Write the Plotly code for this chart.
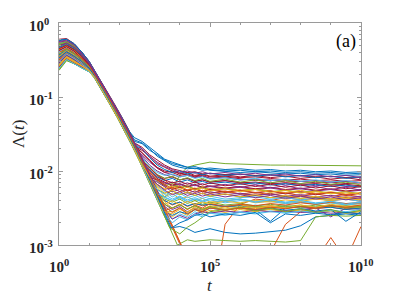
import plotly.graph_objects as go

# ---- data (log10 values) ----
EARLY_LOGT = [0.0, 0.25, 0.5, 0.75, 1.0]
FULL_LOGT = [1.25, 1.5, 1.75, 2.0, 2.25, 2.5, 2.75, 3.0, 3.25, 3.5, 3.75, 4.0,
             4.25, 4.5, 4.75, 5.0, 5.5, 6.0, 6.5, 7.0, 7.5, 8.0, 8.5, 9.0, 9.5, 10.0]
# common decay followed by all runs before they level off (log10 Lambda)
DECAY = [-0.74, -0.91, -1.09, -1.27, -1.46, -1.66, -1.87, -2.09, -2.31, -2.54,
         -2.77, -3.00, -3.22, -3.44, -3.66, -3.88]

START = [-0.30, -0.45, -0.52, -0.38, -0.61, -0.27, -0.48, -0.56, -0.35, -0.42,
         -0.58, -0.64, -0.33, -0.50, -0.24, -0.46, -0.40, -0.54, -0.29, -0.62,
         -0.37, -0.44, -0.51, -0.26, -0.59, -0.32, -0.47, -0.22, -0.55, -0.41,
         -0.36, -0.53, -0.28, -0.49, -0.60, -0.43, -0.34, -0.57, -0.25, -0.63,
         -0.39, -0.31, -0.23, -0.50, -0.45, -0.54, -0.29, -0.61, -0.37, -0.33,
         -0.48, -0.58, -0.26, -0.42, -0.52, -0.35, -0.47, -0.40, -0.56, -0.31]
E25 = [-0.27, -0.37, -0.42, -0.32, -0.49, -0.25, -0.39, -0.45, -0.30, -0.35,
       -0.47, -0.51, -0.29, -0.41, -0.22, -0.38, -0.34, -0.44, -0.26, -0.49,
       -0.32, -0.37, -0.42, -0.24, -0.47, -0.28, -0.39, -0.21, -0.44, -0.35,
       -0.31, -0.43, -0.25, -0.40, -0.48, -0.36, -0.30, -0.46, -0.23, -0.50,
       -0.33, -0.27, -0.22, -0.41, -0.37, -0.44, -0.26, -0.49, -0.32, -0.29,
       -0.39, -0.47, -0.24, -0.35, -0.42, -0.30, -0.39, -0.34, -0.45, -0.27]
E50 = [-0.33, -0.43, -0.48, -0.38, -0.55, -0.31, -0.45, -0.51, -0.36, -0.41,
       -0.53, -0.55, -0.35, -0.47, -0.28, -0.44, -0.40, -0.50, -0.32, -0.55,
       -0.38, -0.43, -0.48, -0.30, -0.53, -0.34, -0.45, -0.28, -0.50, -0.41,
       -0.37, -0.49, -0.31, -0.46, -0.54, -0.42, -0.36, -0.52, -0.29, -0.55,
       -0.39, -0.33, -0.28, -0.47, -0.43, -0.50, -0.32, -0.55, -0.38, -0.35,
       -0.45, -0.53, -0.30, -0.41, -0.48, -0.36, -0.45, -0.40, -0.51, -0.33]
E75 = [-0.43, -0.51, -0.55, -0.47, -0.60, -0.41, -0.52, -0.57, -0.45, -0.49,
       -0.58, -0.60, -0.44, -0.54, -0.39, -0.51, -0.48, -0.56, -0.42, -0.60,
       -0.47, -0.51, -0.55, -0.41, -0.58, -0.44, -0.52, -0.39, -0.56, -0.49,
       -0.46, -0.55, -0.41, -0.53, -0.59, -0.50, -0.45, -0.57, -0.40, -0.60,
       -0.48, -0.43, -0.39, -0.54, -0.51, -0.56, -0.42, -0.60, -0.47, -0.44,
       -0.52, -0.58, -0.41, -0.49, -0.55, -0.45, -0.52, -0.48, -0.57, -0.43]
E100 = [-0.55, -0.60, -0.63, -0.57, -0.66, -0.53, -0.61, -0.64, -0.56, -0.59,
        -0.65, -0.66, -0.55, -0.62, -0.52, -0.60, -0.58, -0.63, -0.54, -0.66,
        -0.57, -0.60, -0.63, -0.53, -0.65, -0.55, -0.61, -0.52, -0.63, -0.59,
        -0.57, -0.63, -0.53, -0.61, -0.65, -0.59, -0.56, -0.64, -0.53, -0.66,
        -0.58, -0.55, -0.52, -0.62, -0.60, -0.63, -0.54, -0.66, -0.57, -0.55,
        -0.61, -0.65, -0.53, -0.59, -0.63, -0.56, -0.61, -0.58, -0.64, -0.55]
# small offset (in decades of t) of each run along the common decay
DECAY_SHIFT = [0.04, -0.02, -0.05, 0.02, -0.07, 0.05, -0.03, -0.06, 0.03, 0.00,
               -0.06, -0.08, 0.03, -0.04, 0.07, -0.02, 0.01, -0.05, 0.05, -0.07,
               0.02, -0.01, -0.04, 0.06, -0.06, 0.04, -0.03, 0.08, -0.05, 0.00,
               0.02, -0.04, 0.05, -0.03, -0.07, -0.01, 0.03, -0.06, 0.06, -0.08,
               0.01, 0.04, 0.07, -0.04, -0.02, -0.05, 0.05, -0.07, 0.02, 0.03,
               -0.03, -0.06, 0.06, 0.00, -0.04, 0.03, -0.03, 0.01, -0.06, 0.04]

# late-time values of each run (aligned to the end of FULL_LOGT)
TAILS = [
    [-1.60, -1.63, -1.72, -1.78, -1.85, -1.90, -1.93, -1.95, -1.97, -1.96, -1.99, -2.00, -2.02, -2.01, -2.03, -2.04, -2.03, -2.05, -2.04, -2.06, -2.05],
    [-1.98, -2.08, -2.12, -2.22, -2.20, -2.26, -2.24, -2.28, -2.30, -2.27, -2.31, -2.33, -2.30, -2.35, -2.34, -2.36, -2.38, -2.35, -2.37],
    [-2.22, -2.35, -2.30, -2.38, -2.35, -2.40, -2.37, -2.42, -2.40, -2.38, -2.43, -2.41, -2.44, -2.42, -2.45, -2.43, -2.46, -2.44],
    [-1.80, -1.92, -2.00, -2.05, -2.08, -2.12, -2.10, -2.14, -2.12, -2.15, -2.13, -2.16, -2.18, -2.15, -2.19, -2.17, -2.20, -2.18, -2.21, -2.20],
    [-2.35, -2.25, -2.05, -1.95, -1.92, -1.90, -1.88, -1.90, -1.91, -1.91, -1.92, -1.92, -1.92, -1.93, -1.92, -1.93, -1.93],
    [-2.48, -2.55, -2.50, -2.58, -2.52, -2.55, -2.50, -2.47, -2.50, -2.46, -2.49, -2.47, -2.50, -2.48, -2.46, -2.49, -2.47],
    [-1.72, -1.80, -1.90, -1.95, -2.00, -2.03, -2.05, -2.08, -2.06, -2.10, -2.08, -2.11, -2.13, -2.12, -2.15, -2.14, -2.16, -2.15, -2.17, -2.16],
    [-2.75, -2.78, -2.83, -2.80, -2.78, -2.83, -2.85, -2.84, -2.82, -2.80, -2.74, -2.62, -2.60, -2.58, -2.60],
    [-2.72, -2.45, -2.38, -2.40, -2.36, -2.39, -2.37, -2.40, -2.38, -2.41],
    [-2.00, -2.10, -2.18, -2.15, -2.22, -2.20, -2.24, -2.21, -2.25, -2.23, -2.26, -2.24, -2.27, -2.29, -2.26, -2.30, -2.28, -2.31, -2.29],
    [-2.45, -2.52, -2.48, -2.55, -2.50, -2.53, -2.49, -2.52, -2.50, -2.53, -2.51, -2.55, -2.52, -2.50, -2.62, -2.50, -2.52],
    [-2.93, -2.95, -2.94, -2.93, -2.94, -2.95, -2.94, -2.95, -2.96, -2.94, -2.62, -2.60, -2.61, -2.60],
    [-2.20, -2.28, -2.35, -2.30, -2.36, -2.33, -2.37, -2.34, -2.38, -2.36, -2.35, -2.38, -2.36, -2.39, -2.37, -2.40, -2.38, -2.41],
    [-1.75, -1.85, -1.95, -2.00, -2.02, -2.06, -2.04, -2.07, -2.05, -2.08, -2.07, -2.09, -2.08, -2.10, -2.12, -2.11, -2.13, -2.12, -2.14, -2.13],
    [-1.58, -1.62, -1.70, -1.80, -1.86, -1.92, -1.95, -1.97, -1.96, -1.99, -1.98, -2.00, -1.99, -2.01, -2.00, -2.02, -2.01, -2.03, -2.02, -2.04, -2.03],
    [-2.40, -2.46, -2.42, -2.48, -2.44, -2.47, -2.45, -2.48, -2.46, -2.49, -2.47, -2.50, -2.48, -2.51, -2.49, -2.52, -2.50],
    [-2.55, -2.50, -2.56, -2.48, -2.52, -2.47, -2.50, -2.46, -2.49, -2.47, -2.51, -2.48, -2.50, -2.47, -2.49, -2.48],
    [-2.02, -2.12, -2.16, -2.20, -2.18, -2.22, -2.19, -2.23, -2.21, -2.24, -2.22, -2.25, -2.23, -2.26, -2.24, -2.27, -2.25, -2.28, -2.26],
    [-2.25, -2.30, -2.27, -2.32, -2.29, -2.33, -2.30, -2.34, -2.31, -2.35, -2.33, -2.36, -2.34, -2.37, -2.35, -2.38, -2.36, -2.39],
    [-2.65, -2.58, -2.62, -2.55, -2.60, -2.56, -2.58, -2.55, -2.57, -2.54, -2.56, -2.55, -2.57, -2.54, -2.56, -2.55],
    [-1.95, -2.05, -2.10, -2.08, -2.12, -2.10, -2.14, -2.12, -2.15, -2.13, -2.16, -2.15, -2.17, -2.16, -2.18, -2.17, -2.19, -2.18, -2.20],
    [-2.40, -2.45, -2.42, -2.47, -2.44, -2.46, -2.45, -2.48, -2.47, -2.52, -2.68, -2.50, -2.48, -2.50, -2.49, -2.52, -2.50],
    [-2.18, -2.25, -2.22, -2.28, -2.25, -2.29, -2.26, -2.30, -2.28, -2.31, -2.29, -2.32, -2.30, -2.33, -2.31, -2.34, -2.32, -2.35],
    [-2.42, -2.50, -2.45, -2.52, -2.47, -2.51, -2.48, -2.53, -2.50, -2.54, -2.52, -2.55, -2.53, -2.56, -2.54, -2.57, -2.55],
    [-1.78, -1.88, -1.96, -2.02, -2.05, -2.08, -2.06, -2.09, -2.07, -2.10, -2.09, -2.12, -2.11, -2.13, -2.12, -2.14, -2.13, -2.15, -2.14, -2.16],
    [-2.05, -2.14, -2.20, -2.17, -2.23, -2.20, -2.25, -2.22, -2.26, -2.24, -2.27, -2.25, -2.28, -2.26, -2.29, -2.27, -2.30, -2.28, -2.31],
    [-2.28, -2.36, -2.40, -2.35, -2.41, -2.38, -2.42, -2.39, -2.43, -2.40, -2.42, -2.41, -2.44, -2.42, -2.45, -2.43, -2.46, -2.44],
    [-1.62, -1.68, -1.78, -1.85, -1.92, -1.97, -2.00, -2.02, -2.01, -2.04, -2.03, -2.05, -2.04, -2.06, -2.05, -2.07, -2.06, -2.08, -2.07, -2.09, -2.08],
    [-1.98, -2.08, -2.13, -2.10, -2.15, -2.12, -2.16, -2.14, -2.17, -2.15, -2.18, -2.16, -2.19, -2.17, -2.20, -2.18, -2.21, -2.19, -2.22],
    [-3.50, -3.30, -3.20, -3.10, -2.72, -2.55, -2.50, -2.47, -2.50, -2.48],
    [-2.62, -2.55, -2.60, -2.52, -2.57, -2.53, -2.56, -2.52, -2.55, -2.51, -2.54, -2.52, -2.55, -2.53, -2.56, -2.54],
    [-2.15, -2.22, -2.28, -2.25, -2.30, -2.27, -2.31, -2.28, -2.32, -2.30, -2.33, -2.31, -2.34, -2.32, -2.35, -2.33, -2.36, -2.34],
    [-2.38, -2.42, -2.38, -2.44, -2.40, -2.45, -2.42, -2.46, -2.44, -2.47, -2.45, -2.48, -2.46, -2.49, -2.47, -2.50, -2.48],
    [-1.82, -1.94, -2.02, -2.06, -2.04, -2.08, -2.06, -2.10, -2.08, -2.11, -2.09, -2.12, -2.10, -2.13, -2.11, -2.14, -2.12, -2.15, -2.13, -2.16],
    [-2.00, -2.10, -2.15, -2.19, -2.17, -2.21, -2.18, -2.22, -2.20, -2.23, -2.21, -2.24, -2.22, -2.25, -2.23, -2.26, -2.24, -2.27, -2.25],
    [-2.60, -2.55, -2.58, -2.52, -2.55, -2.50, -2.53, -2.49, -2.52, -2.50, -2.53, -2.51, -2.54, -2.52, -2.68, -2.55],
    [-3.60, -3.50, -3.40, -3.30, -3.20, -3.10, -3.20, -2.90, -3.20, -2.75],
    [-2.20, -2.30, -2.26, -2.32, -2.28, -2.33, -2.30, -2.34, -2.31, -2.35, -2.32, -2.36, -2.33, -2.37, -2.34, -2.38, -2.35, -2.39],
    [-2.65, -2.60, -2.64, -2.58, -2.55, -2.57, -2.54, -2.56, -2.53, -2.55, -2.54, -2.56, -2.55, -2.57, -2.56, -2.58],
    [-2.85, -2.76, -2.70, -2.62, -2.55, -2.52, -2.50, -2.48, -2.50, -2.47, -2.49, -2.46, -2.48, -2.47, -2.49],
    [-2.35, -2.40, -2.36, -2.42, -2.38, -2.41, -2.37, -2.40, -2.38, -2.41, -2.39, -2.42, -2.40, -2.43, -2.41, -2.44, -2.42],
    [-1.76, -1.86, -1.96, -2.02, -2.00, -2.04, -2.02, -2.06, -2.04, -2.07, -2.05, -2.08, -2.06, -2.09, -2.07, -2.10, -2.08, -2.11, -2.09, -2.12],
    [-1.55, -1.60, -1.68, -1.76, -1.84, -1.88, -1.92, -1.95, -1.94, -1.97, -1.96, -1.98, -1.97, -1.99, -1.98, -2.00, -1.99, -2.01, -2.00, -2.02, -2.01],
    [-2.50, -2.45, -2.52, -2.46, -2.50, -2.44, -2.48, -2.45, -2.47, -2.44, -2.46, -2.43, -2.45, -2.42, -2.44, -2.43],
    [-2.45, -2.40, -2.46, -2.41, -2.45, -2.42, -2.44, -2.41, -2.43, -2.40, -2.42, -2.39, -2.41, -2.38, -2.40, -2.37, -2.39],
    [-2.05, -2.12, -2.18, -2.15, -2.19, -2.16, -2.20, -2.17, -2.21, -2.18, -2.22, -2.19, -2.23, -2.20, -2.24, -2.21, -2.25, -2.22, -2.26],
    [-1.85, -1.95, -2.05, -2.10, -2.07, -2.12, -2.09, -2.13, -2.10, -2.14, -2.11, -2.15, -2.12, -2.16, -2.13, -2.17, -2.14, -2.18, -2.15, -2.19],
    [-2.70, -2.62, -2.66, -2.58, -2.62, -2.57, -2.60, -2.56, -2.58, -2.55, -2.57, -2.54, -2.56, -2.53, -2.55, -2.52],
    [-2.12, -2.20, -2.25, -2.22, -2.27, -2.24, -2.28, -2.25, -2.29, -2.26, -2.30, -2.27, -2.31, -2.28, -2.32, -2.29, -2.33, -2.30],
    [-1.70, -1.82, -1.92, -1.98, -2.02, -2.00, -2.04, -2.02, -2.05, -2.03, -2.06, -2.04, -2.07, -2.05, -2.08, -2.06, -2.09, -2.07, -2.10, -2.08],
    [-2.02, -2.12, -2.18, -2.24, -2.21, -2.26, -2.23, -2.27, -2.24, -2.28, -2.26, -2.29, -2.27, -2.30, -2.28, -2.31, -2.29, -2.32, -2.30],
    [-2.58, -2.52, -2.56, -2.50, -2.54, -2.49, -2.52, -2.48, -2.51, -2.47, -2.50, -2.46, -2.49, -2.45, -2.48, -2.46],
    [-1.62, -1.70, -1.80, -1.88, -1.94, -1.98, -2.02, -2.00, -2.03, -2.01, -2.04, -2.02, -2.05, -2.03, -2.06, -2.04, -2.07, -2.05, -2.08, -2.06, -2.09],
    [-2.45, -2.50, -2.46, -2.51, -2.47, -2.52, -2.48, -2.53, -2.49, -2.54, -2.50, -2.55, -2.51, -2.56, -2.52, -2.57, -2.53],
    [-2.25, -2.32, -2.38, -2.34, -2.39, -2.36, -2.40, -2.37, -2.41, -2.38, -2.42, -2.39, -2.43, -2.40, -2.44, -2.41, -2.45, -2.42],
    [-1.96, -2.06, -2.12, -2.16, -2.14, -2.18, -2.15, -2.19, -2.16, -2.20, -2.17, -2.21, -2.18, -2.22, -2.19, -2.23, -2.20, -2.24, -2.21],
    [-2.70, -2.66, -2.60, -2.58, -2.62, -2.58, -2.60, -2.56, -2.70, -2.58, -2.60, -2.57, -2.59, -2.56, -2.58],
    [-2.48, -2.56, -2.50, -2.58, -2.52, -2.55, -2.50, -2.53, -2.50, -2.52, -2.49, -2.51, -2.48, -2.50, -2.47, -2.49, -2.46],
    [-2.08, -2.18, -2.24, -2.20, -2.25, -2.22, -2.26, -2.23, -2.27, -2.24, -2.28, -2.25, -2.29, -2.26, -2.30, -2.27, -2.31, -2.28, -2.32],
    [-2.18, -2.26, -2.32, -2.28, -2.33, -2.30, -2.34, -2.31, -2.35, -2.32, -2.36, -2.33, -2.37, -2.34, -2.38, -2.35, -2.39, -2.36],
]

COLORS = ["#0072BD", "#D95319", "#EDB120", "#7E2F8E", "#77AC30", "#4DBEEE", "#A2142F"]

X_TICK_EXP = [0, 5, 10]          # major ticks at 10^0, 10^5, 10^10
Y_TICK_EXP = [-3, -2, -1, 0]     # major ticks at 10^-3 ... 10^0

SERIF = "Liberation Serif, Times New Roman, serif"
AXIS_GREY = "#9a9a9a"
LABEL_COLOR = "#262626"

# ---- figure ----
fig = go.Figure()
n_full = len(FULL_LOGT)
for i, tail in enumerate(TAILS):
    n_dec = n_full - len(tail)
    logx = EARLY_LOGT + [t + DECAY_SHIFT[i] for t in FULL_LOGT[:n_dec]] + FULL_LOGT[n_dec:]
    logy = [START[i], E25[i], E50[i], E75[i], E100[i]] + DECAY[:n_dec] + tail
    fig.add_trace(go.Scatter(
        x=[10 ** v for v in logx], y=[10 ** v for v in logy], mode="lines",
        line=dict(color=COLORS[i % len(COLORS)], width=1),
        showlegend=False, hoverinfo="skip"))

minor_x = [10 ** k for k in range(1, 10) if k not in X_TICK_EXP]
minor_y = [m * 10 ** e for e in Y_TICK_EXP[:-1] for m in range(2, 10)]

axis_common = dict(
    type="log", showgrid=False, zeroline=False, automargin=False,
    showline=True, linecolor=AXIS_GREY, linewidth=1, mirror="allticks",
    ticks="inside", ticklen=4, tickcolor=AXIS_GREY, tickwidth=1,
    showticklabels=False,
)
fig.update_xaxes(**axis_common, range=[0, 10], tickmode="array",
                 tickvals=[10 ** e for e in X_TICK_EXP],
                 minor=dict(tickmode="array", tickvals=minor_x, ticks="inside",
                            ticklen=2, tickcolor=AXIS_GREY))
fig.update_yaxes(**axis_common, range=[-3, 0], tickmode="array",
                 tickvals=[10 ** e for e in Y_TICK_EXP],
                 minor=dict(tickmode="array", tickvals=minor_y, ticks="inside",
                            ticklen=2, tickcolor=AXIS_GREY))

tick_font = dict(family=SERIF, size=15, color=LABEL_COLOR)
annotations = []
for e in X_TICK_EXP:
    annotations.append(dict(
        text=f"<b>10<sup>{e}</sup></b>", xref="x", yref="paper", x=e, y=0,
        yshift=-10, xanchor="center", yanchor="top", showarrow=False,
        font=tick_font))
for e in Y_TICK_EXP:
    annotations.append(dict(
        text=f"<b>10<sup>{e}</sup></b>", xref="paper", yref="y", x=0, y=e,
        xshift=-32, yshift=-2, xanchor="left", align="left", yanchor="middle",
        showarrow=False, font=tick_font))
annotations += [
    dict(text="(a)", xref="paper", yref="paper", x=0.99, y=0.975,
         xanchor="right", yanchor="top", showarrow=False,
         font=dict(family=SERIF, size=18, color="#000000")),
    dict(text="<i>t</i>", xref="paper", yref="paper", x=0.5, y=0,
         yshift=-40, xanchor="center", yanchor="middle", showarrow=False,
         font=dict(family=SERIF, size=17, color=LABEL_COLOR)),
    dict(text="Λ(<i>t</i>)", xref="paper", yref="paper", x=0, y=0.5,
         xshift=-41, xanchor="center", yanchor="middle", textangle=-90,
         showarrow=False, font=dict(family=SERIF, size=17, color=LABEL_COLOR)),
]

fig.update_layout(
    template="none",
    width=399, height=299,
    margin=dict(l=59, r=38, t=23, b=54),
    paper_bgcolor="white", plot_bgcolor="white",
    annotations=annotations,
)

fig.write_html("out.html", config={"displayModeBar": False},
               post_script="document.body.style.margin='0';"
                           "document.body.style.overflow='hidden';")
